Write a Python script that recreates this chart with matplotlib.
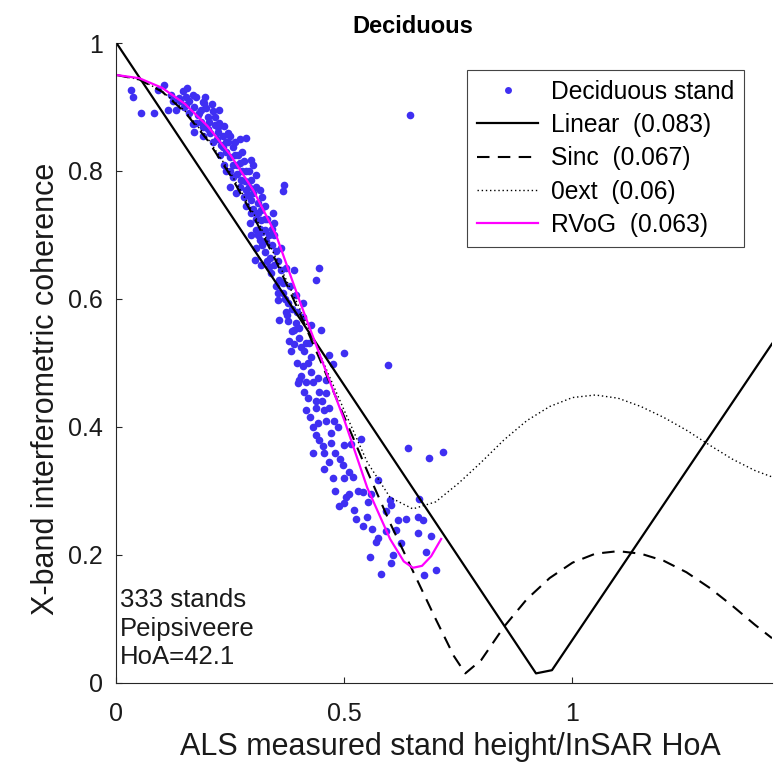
import numpy as np
import matplotlib
matplotlib.use('Agg')
import matplotlib.pyplot as plt

plt.rcParams['font.family'] = ['Liberation Sans', 'DejaVu Sans']

# ---- data ----
stand_x = [0.032, 0.036, 0.054, 0.083, 0.113, 0.105, 0.090, 0.120, 0.138, 0.153, 0.167, 0.149,
           0.171, 0.189, 0.197, 0.211, 0.178, 0.186, 0.204, 0.215, 0.171, 0.189, 0.222, 0.211,
           0.230, 0.153, 0.193, 0.182, 0.167, 0.189, 0.222, 0.233, 0.244, 0.284, 0.233, 0.255,
           0.226, 0.248, 0.266, 0.270, 0.295, 0.240, 0.255, 0.284, 0.306, 0.273, 0.295, 0.306,
           0.248, 0.284, 0.262, 0.281, 0.368, 0.365, 0.288, 0.310, 0.317, 0.343, 0.346, 0.295,
           0.317, 0.292, 0.306, 0.325, 0.295, 0.314, 0.328, 0.306, 0.325, 0.303, 0.317, 0.336,
           0.346, 0.372, 0.390, 0.445, 0.438, 0.339, 0.357, 0.365, 0.394, 0.354, 0.376, 0.409,
           0.372, 0.409, 0.357, 0.376, 0.394, 0.427, 0.390, 0.449, 0.401, 0.379, 0.416, 0.383,
           0.412, 0.467, 0.500, 0.427, 0.423, 0.474, 0.595, 0.409, 0.427, 0.401, 0.441, 0.460,
           0.398, 0.412, 0.460, 0.438, 0.456, 0.416, 0.438, 0.467, 0.441, 0.478, 0.485, 0.438,
           0.471, 0.537, 0.452, 0.500, 0.515, 0.639, 0.686, 0.716, 0.456, 0.496, 0.511, 0.518,
           0.573, 0.511, 0.504, 0.540, 0.559, 0.551, 0.599, 0.603, 0.500, 0.489, 0.664, 0.592,
           0.526, 0.617, 0.636, 0.661, 0.672, 0.592, 0.613, 0.661, 0.430, 0.573, 0.690, 0.624,
           0.555, 0.606, 0.602, 0.679, 0.580, 0.675, 0.701, 0.643,
           0.125, 0.145, 0.160, 0.175, 0.200, 0.215, 0.225, 0.240, 0.250, 0.260, 0.265, 0.275,
           0.280, 0.290, 0.300, 0.300, 0.315, 0.320, 0.325, 0.330, 0.335, 0.340, 0.350, 0.355,
           0.360, 0.365, 0.380, 0.385, 0.395, 0.400, 0.405, 0.420, 0.430, 0.445, 0.450, 0.460,
           0.470, 0.480, 0.490, 0.500, 0.530, 0.550, 0.560, 0.285, 0.310, 0.320, 0.345, 0.270,
           0.235, 0.255,
           0.130, 0.140, 0.155, 0.160, 0.175, 0.185, 0.195, 0.200, 0.205, 0.210, 0.220, 0.225,
           0.235, 0.240, 0.245, 0.250, 0.260, 0.265, 0.270, 0.275, 0.280, 0.290, 0.295, 0.300,
           0.305, 0.310, 0.315, 0.320, 0.325, 0.330, 0.335, 0.340, 0.350, 0.355, 0.360, 0.370,
           0.375, 0.385, 0.390, 0.395, 0.405, 0.415, 0.420, 0.425, 0.430, 0.445, 0.455, 0.465,
           0.475, 0.480, 0.520, 0.540, 0.570]
stand_y = [0.927, 0.915, 0.890, 0.890, 0.895, 0.934, 0.927, 0.919, 0.914, 0.916, 0.919, 0.900,
           0.900, 0.908, 0.898, 0.893, 0.888, 0.877, 0.877, 0.872, 0.861, 0.854, 0.861, 0.846,
           0.841, 0.903, 0.906, 0.890, 0.874, 0.869, 0.869, 0.854, 0.860, 0.851, 0.838, 0.838,
           0.825, 0.822, 0.825, 0.812, 0.817, 0.800, 0.790, 0.800, 0.794, 0.786, 0.786, 0.775,
           0.775, 0.770, 0.765, 0.784, 0.778, 0.768, 0.763, 0.750, 0.739, 0.734, 0.718, 0.734,
           0.723, 0.718, 0.708, 0.708, 0.700, 0.692, 0.690, 0.679, 0.674, 0.661, 0.653, 0.664,
           0.653, 0.648, 0.645, 0.648, 0.630, 0.640, 0.630, 0.609, 0.606, 0.598, 0.593, 0.593,
           0.580, 0.572, 0.567, 0.565, 0.562, 0.559, 0.552, 0.552, 0.539, 0.534, 0.531, 0.518,
           0.518, 0.513, 0.515, 0.510, 0.531, 0.499, 0.497, 0.495, 0.486, 0.473, 0.476, 0.473,
           0.468, 0.455, 0.453, 0.440, 0.427, 0.427, 0.429, 0.429, 0.406, 0.409, 0.400, 0.388,
           0.390, 0.382, 0.370, 0.372, 0.374, 0.367, 0.351, 0.361, 0.335, 0.341, 0.330, 0.322,
           0.317, 0.296, 0.291, 0.299, 0.296, 0.283, 0.286, 0.278, 0.281, 0.276, 0.288, 0.268,
           0.257, 0.255, 0.257, 0.260, 0.255, 0.237, 0.239, 0.234, 0.359, 0.226, 0.229, 0.218,
           0.197, 0.200, 0.187, 0.205, 0.171, 0.169, 0.177, 0.8875,
           0.910, 0.925, 0.910, 0.915, 0.885, 0.885, 0.875, 0.845, 0.855, 0.845, 0.810, 0.830,
           0.815, 0.800, 0.810, 0.765, 0.770, 0.760, 0.745, 0.725, 0.700, 0.685, 0.675, 0.660,
           0.645, 0.625, 0.620, 0.585, 0.580, 0.555, 0.525, 0.500, 0.470, 0.455, 0.440, 0.410,
           0.375, 0.360, 0.350, 0.320, 0.300, 0.260, 0.240, 0.745, 0.735, 0.705, 0.700, 0.775,
           0.810, 0.810,
           0.895, 0.910, 0.930, 0.890, 0.875, 0.895, 0.915, 0.865, 0.860, 0.905, 0.850, 0.895,
           0.870, 0.830, 0.845, 0.800, 0.825, 0.795, 0.850, 0.800, 0.760, 0.775, 0.755, 0.740,
           0.725, 0.700, 0.710, 0.685, 0.725, 0.660, 0.650, 0.710, 0.620, 0.610, 0.680, 0.600,
           0.575, 0.550, 0.530, 0.500, 0.480, 0.470, 0.445, 0.415, 0.400, 0.380, 0.360, 0.345,
           0.320, 0.300, 0.270, 0.245, 0.220]

linear_x = [0.0, 0.92, 0.955, 1.4375]
linear_y = [1.0, 0.015, 0.02, 0.53]

sinc_x = [0.0, 0.05, 0.1, 0.15, 0.2, 0.25, 0.3, 0.35, 0.4, 0.45, 0.5, 0.55, 0.6, 0.65, 0.7,
          0.74, 0.765, 0.8, 0.85, 0.9, 0.95, 1.0, 1.05, 1.1, 1.15, 1.2, 1.25, 1.3, 1.35, 1.4, 1.4375]
sinc_y = [0.95, 0.943, 0.924, 0.892, 0.848, 0.793, 0.730, 0.659, 0.581, 0.499, 0.415, 0.331,
          0.25, 0.175, 0.10, 0.042, 0.015, 0.036, 0.088, 0.131, 0.164, 0.188, 0.202, 0.206,
          0.202, 0.191, 0.173, 0.149, 0.121, 0.091, 0.070]

zext_x = [0.0, 0.05, 0.1, 0.15, 0.2, 0.25, 0.3, 0.35, 0.4, 0.45, 0.5, 0.55, 0.6, 0.65, 0.7,
          0.75, 0.8, 0.85, 0.9, 0.95, 1.0, 1.05, 1.1, 1.15, 1.2, 1.25, 1.3, 1.35, 1.4, 1.4375]
zext_y = [0.95, 0.943, 0.925, 0.894, 0.851, 0.797, 0.735, 0.664, 0.588, 0.507, 0.425, 0.345,
          0.29, 0.272, 0.283, 0.312, 0.345, 0.38, 0.41, 0.432, 0.446, 0.45, 0.445, 0.432,
          0.415, 0.395, 0.372, 0.35, 0.332, 0.322]

rvog_x = [0.0, 0.05, 0.1, 0.15, 0.2, 0.25, 0.3, 0.35, 0.4, 0.45, 0.5, 0.55, 0.6, 0.63,
          0.65, 0.67, 0.69, 0.712]
rvog_y = [0.95, 0.945, 0.93, 0.905, 0.87, 0.825, 0.77, 0.70, 0.60, 0.505, 0.41, 0.305,
          0.225, 0.19, 0.18, 0.183, 0.198, 0.225]

labels = ['Deciduous stand', 'Linear  (0.083)', 'Sinc  (0.067)', '0ext  (0.06)', 'RVoG  (0.063)']
info_text = '333 stands\nPeipsiveere\nHoA=42.1'

# ---- figure ----
fig = plt.figure(figsize=(7.79, 7.72), dpi=100)
ax = fig.add_axes([0.1495, 0.1153, 0.8415, 0.829])

ax.plot(stand_x, stand_y, 'o', color='#3f2ff2', markersize=5.5, markeredgewidth=0,
        label=labels[0])
ax.plot(linear_x, linear_y, '-', color='black', lw=1.6, label=labels[1])
ax.plot(sinc_x, sinc_y, color='black', lw=1.5, dashes=(6, 4), label=labels[2])
ax.plot(zext_x, zext_y, color='black', lw=1.0, linestyle=(0, (1, 2)), label=labels[3])
ax.plot(rvog_x, rvog_y, '-', color='#ff00ff', lw=1.6, label=labels[4])

ax.set_xlim(0, 1.4375)
ax.set_ylim(0, 1)
ax.set_xticks([0, 0.5, 1])
ax.set_xticklabels(['0', '0.5', '1'])
ax.set_yticks([0, 0.2, 0.4, 0.6, 0.8, 1])
ax.set_yticklabels(['0', '0.2', '0.4', '0.6', '0.8', '1'])
ax.tick_params(direction='in', length=4, width=0.8, labelsize=18, colors='#262626',
               labelcolor='#1a1a1a')
ax.tick_params(axis='x', pad=14)
ax.tick_params(axis='y', pad=10)
for s in ['top', 'right']:
    ax.spines[s].set_visible(False)
for s in ['left', 'bottom']:
    ax.spines[s].set_color('#262626')
    ax.spines[s].set_linewidth(0.8)

ax.set_xlabel('ALS measured stand height/InSAR HoA', fontsize=22, color='#1a1a1a')
ax.xaxis.set_label_coords(0.51, -0.0766)
ax.set_ylabel('X-band interferometric coherence', fontsize=22, color='#1a1a1a')
ax.yaxis.set_label_coords(-0.085, 0.46)
ax.set_title('Deciduous', fontsize=17, fontweight='bold', x=0.452, pad=7)

ax.text(0.008, 0.03, info_text, fontsize=18.5, ha='left', va='baseline', linespacing=1.22,
        color='#1a1a1a')

leg = ax.legend(loc='upper right', bbox_to_anchor=(0.957, 0.958), borderaxespad=0,
                fontsize=17.7, numpoints=1, handlelength=2.5, handletextpad=0.5,
                labelspacing=0.38, fancybox=False, framealpha=1, edgecolor='#444444',
                borderpad=0.4)
leg.get_frame().set_linewidth(0.8)
leg.legend_handles[0].set_markersize(5)

fig.savefig('out.png', dpi=100)
